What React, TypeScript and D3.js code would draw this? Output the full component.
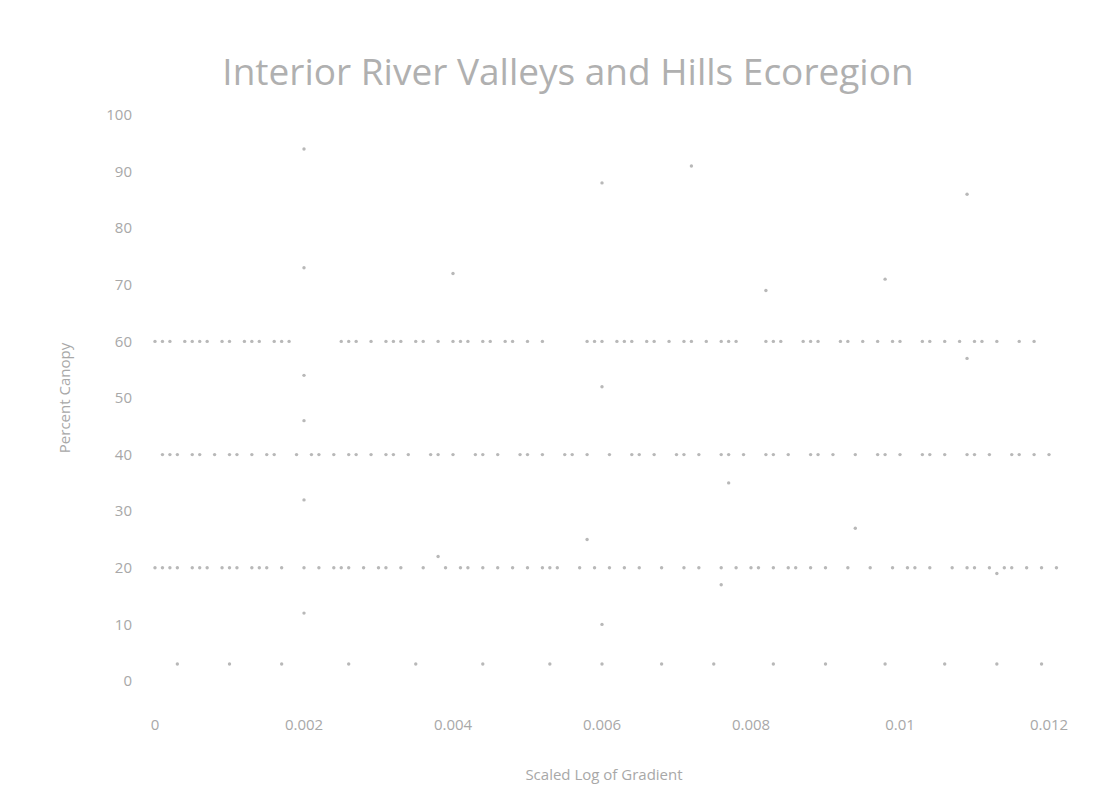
import { FC, useEffect, useRef } from "react";
import * as d3 from "d3";

const title = "Interior River Valleys and Hills Ecoregion";
const xLabel = "Scaled Log of Gradient";
const yLabel = "Percent Canopy";

const xTicks = [0, 0.002, 0.004, 0.006, 0.008, 0.01, 0.012];
const yTicks = [0, 10, 20, 30, 40, 50, 60, 70, 80, 90, 100];

// dense bands of sites at 60, 40 and 20 percent
const band60X = [
  0.0000, 0.0001, 0.0002, 0.0004, 0.0005, 0.0006, 0.0007, 0.0009, 0.0010, 0.0012, 0.0013, 0.0014, 0.0016, 0.0017, 0.0018,
  0.0025, 0.0026, 0.0027, 0.0029, 0.0031, 0.0032, 0.0033, 0.0035, 0.0036, 0.0038, 0.0040, 0.0041, 0.0042, 0.0044, 0.0045, 0.0047, 0.0048, 0.0050, 0.0052,
  0.0058, 0.0059, 0.0060, 0.0062, 0.0063, 0.0064, 0.0066, 0.0067, 0.0069, 0.0071, 0.0072, 0.0074, 0.0076, 0.0077, 0.0078,
  0.0082, 0.0083, 0.0084, 0.0087, 0.0088, 0.0089, 0.0092, 0.0093, 0.0095, 0.0097, 0.0099, 0.0100, 0.0103, 0.0104, 0.0106, 0.0108, 0.0110, 0.0111, 0.0113, 0.0116, 0.0118,
];
const band40X = [
  0.0001, 0.0002, 0.0003, 0.0005, 0.0006, 0.0008, 0.0010, 0.0011, 0.0013, 0.0015, 0.0016, 0.0019, 0.0021, 0.0022, 0.0024, 0.0026, 0.0027, 0.0029,
  0.0031, 0.0032, 0.0034, 0.0037, 0.0038, 0.0040, 0.0043, 0.0044, 0.0046, 0.0049, 0.0050, 0.0052, 0.0055, 0.0056, 0.0058, 0.0061,
  0.0064, 0.0065, 0.0067, 0.0070, 0.0071, 0.0073, 0.0076, 0.0077, 0.0079, 0.0082, 0.0083, 0.0085, 0.0088, 0.0089, 0.0091, 0.0094,
  0.0097, 0.0098, 0.0100, 0.0103, 0.0104, 0.0106, 0.0109, 0.0110, 0.0112, 0.0115, 0.0116, 0.0118, 0.0120,
];
const band20X = [
  0.0000, 0.0001, 0.0002, 0.0003, 0.0005, 0.0006, 0.0007, 0.0009, 0.0010, 0.0011, 0.0013, 0.0014, 0.0015, 0.0017, 0.0020, 0.0022,
  0.0024, 0.0025, 0.0026, 0.0028, 0.0030, 0.0031, 0.0033, 0.0036, 0.0039, 0.0041, 0.0042, 0.0044, 0.0046, 0.0048, 0.0050,
  0.0052, 0.0053, 0.0054, 0.0057, 0.0059, 0.0061, 0.0063, 0.0065, 0.0068, 0.0071, 0.0073, 0.0076, 0.0078,
  0.0080, 0.0081, 0.0083, 0.0085, 0.0086, 0.0088, 0.0090, 0.0093, 0.0096, 0.0099, 0.0101, 0.0102, 0.0104, 0.0107, 0.0109,
  0.0110, 0.0112, 0.0114, 0.0115, 0.0117, 0.0119, 0.0121,
];
const band3X = [
  0.0003, 0.0010, 0.0017, 0.0026, 0.0035, 0.0044, 0.0053, 0.0060, 0.0068, 0.0075,
  0.0083, 0.0090, 0.0098, 0.0106, 0.0113, 0.0119,
];

// scattered sites
const scatterX = [0.0020, 0.0060, 0.0072, 0.0109, 0.0020, 0.0040, 0.0082, 0.0098, 0.0020, 0.0060, 0.0109, 0.0020, 0.0058, 0.0077, 0.0020, 0.0076, 0.0113, 0.0020, 0.0060, 0.0038, 0.0094];
const scatterY = [94, 88, 91, 86, 73, 72, 69, 71, 54, 52, 57, 46, 25, 35, 32, 17, 19, 12, 10, 22, 27];

const App: FC = () => {
  const ref = useRef<SVGSVGElement>(null);

  useEffect(() => {
    const svg = d3.select(ref.current);
    svg.selectAll("*").remove();

    const x = d3.scaleLinear().domain([0, 0.012]).range([147, 1041]);
    const y = d3.scaleLinear().domain([0, 100]).range([673, 107]);
    const font = "'Open Sans', sans-serif";
    const textColor = "#a8a8a8";
    const dotColor = "#b8b8b8";

    svg
      .append("text")
      .attr("x", 560)
      .attr("y", 77)
      .attr("text-anchor", "middle")
      .attr("font-family", font)
      .attr("font-size", 37)
      .attr("fill", "#b0b0b0")
      .text(title);

    // y tick labels
    svg
      .append("g")
      .selectAll("text")
      .data(yTicks)
      .join("text")
      .attr("x", 124)
      .attr("y", (d) => y(d))
      .attr("dy", "0.35em")
      .attr("text-anchor", "end")
      .attr("font-family", font)
      .attr("font-size", 15)
      .attr("fill", textColor)
      .text((d) => d.toString());

    // x tick labels
    svg
      .append("g")
      .selectAll("text")
      .data(xTicks)
      .join("text")
      .attr("x", (d) => x(d))
      .attr("y", 722)
      .attr("text-anchor", "middle")
      .attr("font-family", font)
      .attr("font-size", 15)
      .attr("fill", textColor)
      .text((d) => d.toString());

    svg
      .append("text")
      .attr("x", 596)
      .attr("y", 772)
      .attr("text-anchor", "middle")
      .attr("font-family", font)
      .attr("font-size", 15)
      .attr("fill", textColor)
      .text(xLabel);

    svg
      .append("text")
      .attr("transform", `translate(62,${y(50)}) rotate(-90)`)
      .attr("text-anchor", "middle")
      .attr("font-family", font)
      .attr("font-size", 15)
      .attr("fill", textColor)
      .text(yLabel);

    const bands: [number[], number][] = [
      [band60X, 60],
      [band40X, 40],
      [band20X, 20],
      [band3X, 3],
    ];
    const points = bands.flatMap(([xs, v]) => xs.map((d) => ({ x: d, y: v })));
    scatterX.forEach((d, i) => points.push({ x: d, y: scatterY[i] }));

    svg
      .append("g")
      .selectAll("circle")
      .data(points)
      .join("circle")
      .attr("cx", (d) => x(d.x))
      .attr("cy", (d) => y(d.y))
      .attr("r", 1.7)
      .attr("fill", dotColor);
  }, []);

  return <svg ref={ref} width={1078} height={785} style={{ display: "block" }} />;
};

export default App;
